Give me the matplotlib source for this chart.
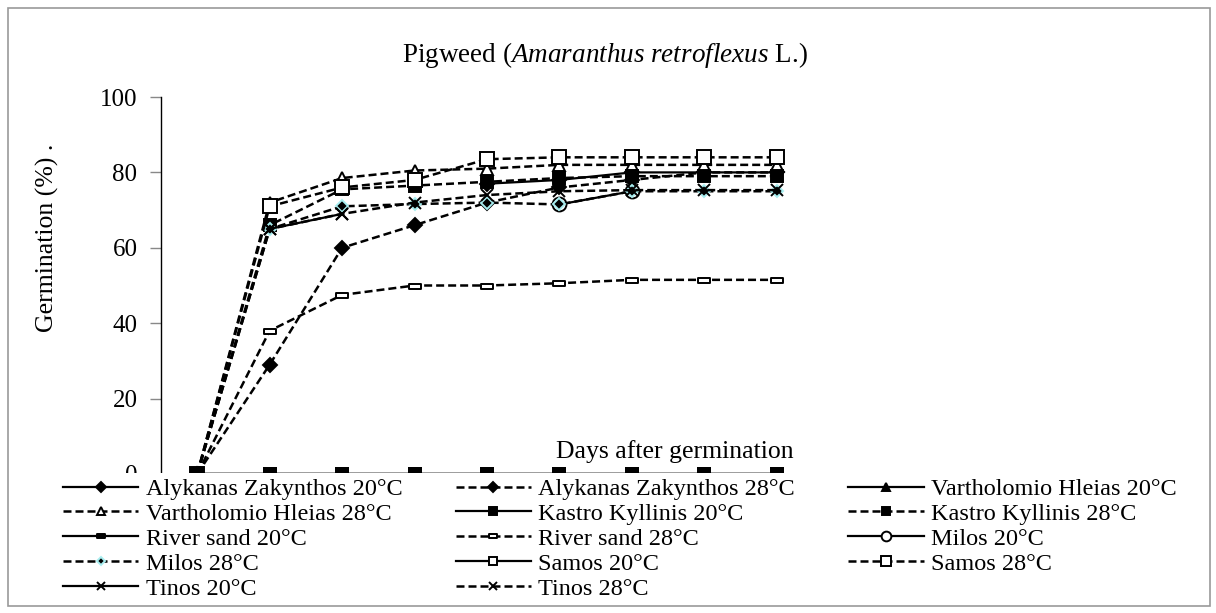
import numpy as np
import matplotlib.pyplot as plt
from matplotlib.patches import Rectangle
from matplotlib.path import Path

plt.rcParams['font.family'] = ['Liberation Serif', 'DejaVu Serif']
plt.rcParams['mathtext.fontset'] = 'custom'
plt.rcParams['mathtext.rm'] = 'Liberation Serif'
plt.rcParams['mathtext.it'] = 'Liberation Serif:italic'

nan = np.nan
days = np.arange(9)

alykanas_20 = [nan, nan, nan, nan, 77, 78, 80, 80, 80]
alykanas_28 = [0, 29, 60, 66, 72, 76, 78, 80, 80]
vartholomio_20 = [0, 0, 0, 0, 0, 0, 0, 0, 0]
vartholomio_28 = [0, 72, 78.5, 80.5, 81, 82, 82, 82, 82]
kastro_20 = [0, 0, 0, 0, 0, 0, 0, 0, 0]
kastro_28 = [0, 66, 75.5, 76.5, 77.5, 78.5, 79, 79, 79]
river_20 = [0, 0, 0, 0, 0, 0, 0, 0, 0]
river_28 = [0, 38, 47.5, 50, 50, 50.6, 51.5, 51.5, 51.5]
milos_20 = [nan, nan, nan, nan, nan, 71.5, 75, nan, nan]
milos_28 = [0, 65, 71, 71.6, 72, 71.5, 75, 75, 75]
samos_20 = [0, 0, 0, 0, 0, 0, 0, 0, 0]
samos_28 = [0, 71, 76, 78, 83.5, 84, 84, 84, 84]
tinos_20 = [nan, 65, 69, nan, nan, nan, nan, nan, nan]
tinos_28 = [0, 65, 69, 72, 74, 75, 75.3, 75.3, 75.3]

labels = ["Alykanas Zakynthos 20°C", "Alykanas Zakynthos 28°C",
          "Vartholomio Hleias 20°C", "Vartholomio Hleias 28°C",
          "Kastro Kyllinis 20°C", "Kastro Kyllinis 28°C",
          "River sand 20°C", "River sand 28°C",
          "Milos 20°C", "Milos 28°C",
          "Samos 20°C", "Samos 28°C",
          "Tinos 20°C", "Tinos 28°C"]
series = [alykanas_20, alykanas_28, vartholomio_20, vartholomio_28,
          kastro_20, kastro_28, river_20, river_28,
          milos_20, milos_28, samos_20, samos_28, tinos_20, tinos_28]

# flat bar marker (Excel "dash")
bar = Path([(-2.5, -1), (2.5, -1), (2.5, 1), (-2.5, 1), (-2.5, -1)],
           [Path.MOVETO, Path.LINETO, Path.LINETO, Path.LINETO, Path.CLOSEPOLY])

# marker, size, face, edge
styles = [
    ('D', 7, 'black', 'black'),
    ('D', 7, 'black', 'black'),
    ('^', 9, 'black', 'black'),
    ('^', 9, 'white', 'black'),
    ('s', 9, 'black', 'black'),
    ('s', 9, 'black', 'black'),
    (bar, 9, 'black', 'black'),
    (bar, 9, 'white', 'black'),
    ('o', 10, 'white', 'black'),
    ('D', 6, 'black', '#a8eef0'),
    ('s', 8.5, 'white', 'black'),
    ('s', 10.5, 'white', 'black'),
    ('x', 8.5, 'black', 'black'),
    ('x', 8.5, 'black', 'black'),
]
zorders = [2.2, 2.2, 2.1, 2.2, 2.3, 2.2, 2.4, 2.2, 2.2, 2.2, 2.0, 2.2, 2.2, 2.2]

fig = plt.figure(figsize=(12.16, 6.13), dpi=100)
ax = fig.add_axes([161 / 1216, 1 - 474 / 613, 652 / 1216, 377 / 613])

handles = []
for i, (vals, lab, st) in enumerate(zip(series, labels, styles)):
    mk, ms, fc, ec = st
    solid = i % 2 == 0
    ln, = ax.plot(days, vals, color='black', lw=1.8 if not solid else 1.6,
                  marker=mk, markersize=ms, markerfacecolor=fc,
                  markeredgecolor=ec, markeredgewidth=1.4,
                  zorder=zorders[i], label=lab, clip_on=False)
    if not solid:
        ln.set_dashes((3.2, 1.6))
    handles.append(ln)

ax.set_xlim(-0.5, 8.5)
ax.set_ylim(0, 100)
ax.set_yticks(np.arange(0, 101, 20))
ax.set_xticks([])
for side in ['top', 'right', 'bottom']:
    ax.spines[side].set_visible(False)
ax.spines['left'].set_linewidth(1.0)
ax.tick_params(axis='y', length=8, width=1, color='#888888', labelsize=18, pad=9)
ax.patch.set_alpha(0)

fig.text(47 / 1216, 1 - 238 / 613, 'Germination (%) .', rotation=90,
         ha='center', va='center', fontsize=18.5)
fig.text(675 / 1216, 1 - 452 / 613, 'Days after germination',
         ha='center', va='center', fontsize=18.5)

fig.text(605 / 1216, 1 - 55 / 613, r'Pigweed ($\mathit{Amaranthus\ retroflexus}$ L.)',
         ha='center', va='center', fontsize=19.5)

# white legend area over the bottom of the plot
fig.add_artist(Rectangle((10 / 1216, 10 / 613), 1196 / 1216, (613 - 473 - 10) / 613,
                         transform=fig.transFigure, facecolor='white',
                         edgecolor='none', zorder=3))
# chart border
fig.add_artist(Rectangle((8 / 1216, 7 / 613), 1202 / 1216, 598 / 613,
                         transform=fig.transFigure, facecolor='none',
                         edgecolor='#999999', lw=1.2, zorder=4))

order = [0, 3, 6, 9, 12, 1, 4, 7, 10, 13, 2, 5, 8, 11]
leg = fig.legend([handles[k] for k in order], [labels[k] for k in order],
                 loc='upper left', bbox_to_anchor=(63 / 1216, 1 - 478 / 613),
                 ncol=3, frameon=False, fontsize=17.5, handlelength=3.1,
                 handletextpad=0.3, columnspacing=2.2, labelspacing=0.12,
                 borderpad=0, borderaxespad=0, markerscale=0.7)
leg.set_zorder(5)

fig.savefig('out.png', dpi=100, facecolor='white')
